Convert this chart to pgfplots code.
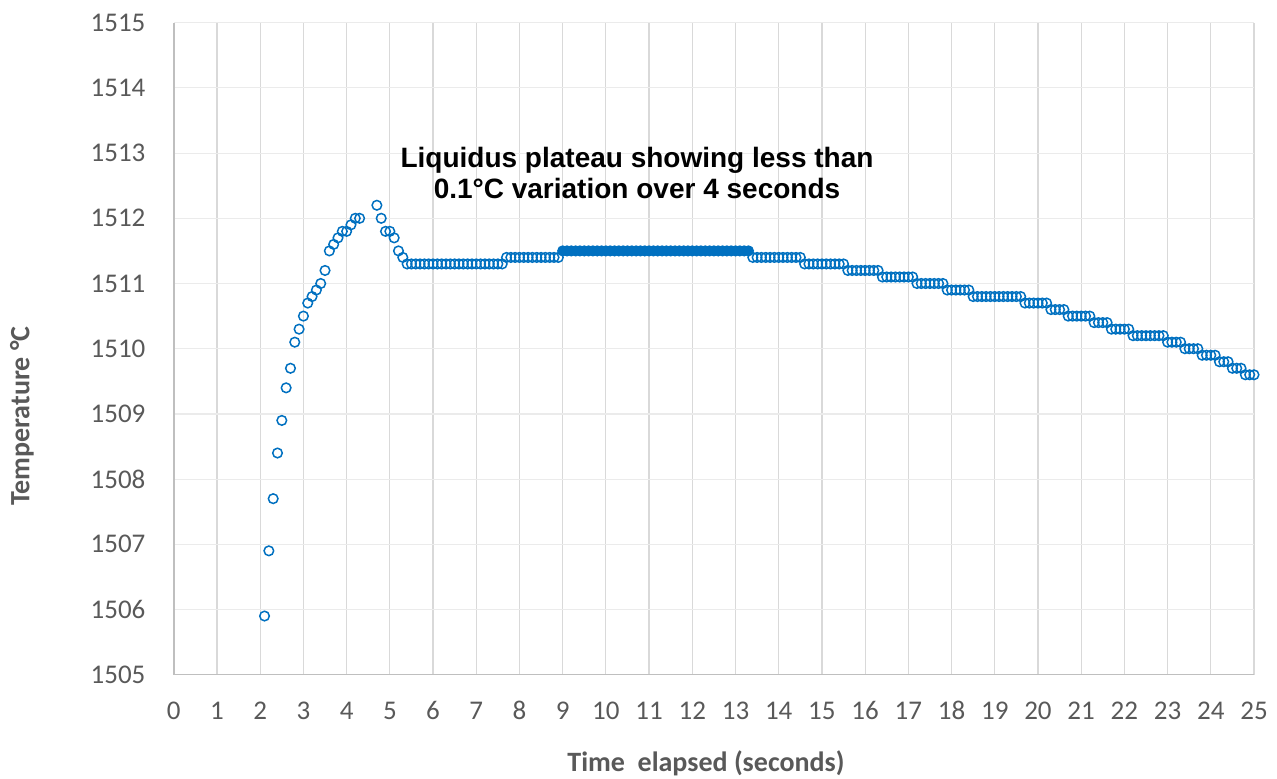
\documentclass[border=0pt]{standalone}
\usepackage{pgfplots}
\pgfplotsset{compat=1.18}
\usepackage{fontspec}
\setmainfont{Carlito}
\newfontfamily\arialfont{Liberation Sans}

\definecolor{ptblue}{RGB}{0,112,192}
\definecolor{ticktext}{RGB}{89,89,89}
\definecolor{vgrid}{RGB}{217,217,217}
\definecolor{hgrid}{RGB}{235,235,235}
\definecolor{axisgray}{RGB}{191,191,191}

\pgfplotsset{
  pt open/.style={only marks, mark=o, mark size=2.4pt,
    mark options={draw=ptblue, line width=0.75pt}},
  pt filled/.style={only marks, mark=*, mark size=2.4pt,
    mark options={draw=ptblue, fill=ptblue, line width=0.75pt}},
}

\begin{document}
\begin{tikzpicture}
\path[use as bounding box] (-86.9pt,-51.65pt) rectangle (551.6pt,337.35pt);
\begin{axis}[
    scale only axis,
    width=540.1pt, height=326pt,
    xmin=0, xmax=25, ymin=1505, ymax=1515,
    xtick={0,1,...,25},
    ytick={1505,1506,...,1515},
    axis lines=left,
    axis line style={-, draw=axisgray, line width=0.75pt},
    major tick length=0pt,
    xmajorgrids, ymajorgrids,
    x grid style={draw=vgrid, line width=0.6pt},
    y grid style={draw=hgrid, line width=0.6pt},
    /pgf/number format/assume math mode=true,
    /pgf/number format/1000 sep={},
    ticklabel style={font=\fontsize{13.5}{16}\selectfont, text=ticktext, inner sep=0pt},
    xticklabel style={anchor=base, yshift=-22.6pt},
    yticklabel style={anchor=east, xshift=-14pt},
    clip=false,
]
% rise, overshoot and first steps
\addplot[pt open] table[row sep=\\] {
x y \\
2.1 1505.9 \\ 2.2 1506.9 \\ 2.3 1507.7 \\ 2.4 1508.4 \\ 2.5 1508.9 \\
2.6 1509.4 \\ 2.7 1509.7 \\ 2.8 1510.1 \\ 2.9 1510.3 \\ 3.0 1510.5 \\
3.1 1510.7 \\ 3.2 1510.8 \\ 3.3 1510.9 \\ 3.4 1511.0 \\ 3.5 1511.2 \\
3.6 1511.5 \\ 3.7 1511.6 \\ 3.8 1511.7 \\ 3.9 1511.8 \\ 4.0 1511.8 \\
4.1 1511.9 \\ 4.2 1512.0 \\ 4.3 1512.0 \\ 4.7 1512.2 \\ 4.8 1512.0 \\
4.9 1511.8 \\ 5.0 1511.8 \\ 5.1 1511.7 \\ 5.2 1511.5 \\ 5.3 1511.4 \\
5.4 1511.3 \\ 5.5 1511.3 \\ 5.6 1511.3 \\ 5.7 1511.3 \\ 5.8 1511.3 \\
5.9 1511.3 \\ 6.0 1511.3 \\ 6.1 1511.3 \\ 6.2 1511.3 \\ 6.3 1511.3 \\
6.4 1511.3 \\ 6.5 1511.3 \\ 6.6 1511.3 \\ 6.7 1511.3 \\ 6.8 1511.3 \\
6.9 1511.3 \\ 7.0 1511.3 \\ 7.1 1511.3 \\ 7.2 1511.3 \\ 7.3 1511.3 \\
7.4 1511.3 \\ 7.5 1511.3 \\ 7.6 1511.3 \\
7.7 1511.4 \\ 7.8 1511.4 \\ 7.9 1511.4 \\ 8.0 1511.4 \\ 8.1 1511.4 \\
8.2 1511.4 \\ 8.3 1511.4 \\ 8.4 1511.4 \\ 8.5 1511.4 \\ 8.6 1511.4 \\
8.7 1511.4 \\ 8.8 1511.4 \\ 8.9 1511.4 \\
};
% slow cooling after the plateau
\addplot[pt open] table[row sep=\\] {
x y \\
13.4 1511.4 \\ 13.5 1511.4 \\ 13.6 1511.4 \\ 13.7 1511.4 \\ 13.8 1511.4 \\
13.9 1511.4 \\ 14.0 1511.4 \\ 14.1 1511.4 \\ 14.2 1511.4 \\ 14.3 1511.4 \\
14.4 1511.4 \\ 14.5 1511.4 \\
14.6 1511.3 \\ 14.7 1511.3 \\ 14.8 1511.3 \\ 14.9 1511.3 \\ 15.0 1511.3 \\
15.1 1511.3 \\ 15.2 1511.3 \\ 15.3 1511.3 \\ 15.4 1511.3 \\ 15.5 1511.3 \\
15.6 1511.2 \\ 15.7 1511.2 \\ 15.8 1511.2 \\ 15.9 1511.2 \\ 16.0 1511.2 \\
16.1 1511.2 \\ 16.2 1511.2 \\ 16.3 1511.2 \\
16.4 1511.1 \\ 16.5 1511.1 \\ 16.6 1511.1 \\ 16.7 1511.1 \\ 16.8 1511.1 \\
16.9 1511.1 \\ 17.0 1511.1 \\ 17.1 1511.1 \\
17.2 1511.0 \\ 17.3 1511.0 \\ 17.4 1511.0 \\ 17.5 1511.0 \\ 17.6 1511.0 \\
17.7 1511.0 \\ 17.8 1511.0 \\
17.9 1510.9 \\ 18.0 1510.9 \\ 18.1 1510.9 \\ 18.2 1510.9 \\ 18.3 1510.9 \\
18.4 1510.9 \\
18.5 1510.8 \\ 18.6 1510.8 \\ 18.7 1510.8 \\ 18.8 1510.8 \\ 18.9 1510.8 \\
19.0 1510.8 \\ 19.1 1510.8 \\ 19.2 1510.8 \\ 19.3 1510.8 \\ 19.4 1510.8 \\
19.5 1510.8 \\ 19.6 1510.8 \\
19.7 1510.7 \\ 19.8 1510.7 \\ 19.9 1510.7 \\ 20.0 1510.7 \\ 20.1 1510.7 \\
20.2 1510.7 \\
20.3 1510.6 \\ 20.4 1510.6 \\ 20.5 1510.6 \\ 20.6 1510.6 \\
20.7 1510.5 \\ 20.8 1510.5 \\ 20.9 1510.5 \\ 21.0 1510.5 \\ 21.1 1510.5 \\
21.2 1510.5 \\
21.3 1510.4 \\ 21.4 1510.4 \\ 21.5 1510.4 \\ 21.6 1510.4 \\
21.7 1510.3 \\ 21.8 1510.3 \\ 21.9 1510.3 \\ 22.0 1510.3 \\ 22.1 1510.3 \\
22.2 1510.2 \\ 22.3 1510.2 \\ 22.4 1510.2 \\ 22.5 1510.2 \\ 22.6 1510.2 \\
22.7 1510.2 \\ 22.8 1510.2 \\ 22.9 1510.2 \\
23.0 1510.1 \\ 23.1 1510.1 \\ 23.2 1510.1 \\ 23.3 1510.1 \\
23.4 1510.0 \\ 23.5 1510.0 \\ 23.6 1510.0 \\ 23.7 1510.0 \\
23.8 1509.9 \\ 23.9 1509.9 \\ 24.0 1509.9 \\ 24.1 1509.9 \\
24.2 1509.8 \\ 24.3 1509.8 \\ 24.4 1509.8 \\
24.5 1509.7 \\ 24.6 1509.7 \\ 24.7 1509.7 \\
24.8 1509.6 \\ 24.9 1509.6 \\ 25.0 1509.6 \\
};
% liquidus plateau, filled markers
\addplot[pt filled] table[row sep=\\] {
x y \\
9.0 1511.5 \\ 9.1 1511.5 \\ 9.2 1511.5 \\ 9.3 1511.5 \\ 9.4 1511.5 \\
9.5 1511.5 \\ 9.6 1511.5 \\ 9.7 1511.5 \\ 9.8 1511.5 \\ 9.9 1511.5 \\
10.0 1511.5 \\ 10.1 1511.5 \\ 10.2 1511.5 \\ 10.3 1511.5 \\ 10.4 1511.5 \\
10.5 1511.5 \\ 10.6 1511.5 \\ 10.7 1511.5 \\ 10.8 1511.5 \\ 10.9 1511.5 \\
11.0 1511.5 \\ 11.1 1511.5 \\ 11.2 1511.5 \\ 11.3 1511.5 \\ 11.4 1511.5 \\
11.5 1511.5 \\ 11.6 1511.5 \\ 11.7 1511.5 \\ 11.8 1511.5 \\ 11.9 1511.5 \\
12.0 1511.5 \\ 12.1 1511.5 \\ 12.2 1511.5 \\ 12.3 1511.5 \\ 12.4 1511.5 \\
12.5 1511.5 \\ 12.6 1511.5 \\ 12.7 1511.5 \\ 12.8 1511.5 \\ 12.9 1511.5 \\
13.0 1511.5 \\ 13.1 1511.5 \\ 13.2 1511.5 \\ 13.3 1511.5 \\
};
\end{axis}
% annotation and axis titles
\node[align=center, font=\arialfont\bfseries\fontsize{14}{15.5}\selectfont, text=black]
  at (231.6pt,251.1pt) {Liquidus plateau showing less than\\0.1\textdegree C variation over 4 seconds};
\node[font=\bfseries\fontsize{14}{16}\selectfont, text=ticktext]
  at (266.1pt,-44.15pt) {Time\ \ elapsed (seconds)};
\node[rotate=90, font=\bfseries\fontsize{14}{16}\selectfont, text=ticktext]
  at (-75.9pt,129.35pt) {Temperature \textdegree C};
\end{tikzpicture}
\end{document}
